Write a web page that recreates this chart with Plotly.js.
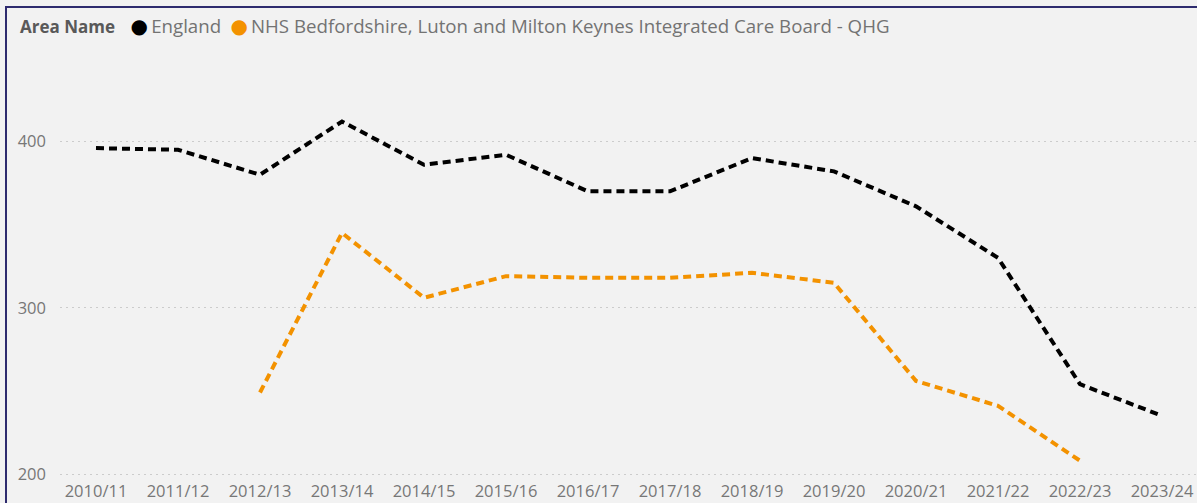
<!DOCTYPE html>
<html><head><meta charset="utf-8">
<script src="https://cdn.plot.ly/plotly-3.0.1.min.js"></script>
<style>
html,body{margin:0;padding:0;background:#f2f2f2;width:1197px;height:503px;overflow:hidden;}
#frame{position:absolute;left:5px;top:6px;width:1200px;height:600px;border-top:2px solid #2e2b6e;border-left:2px solid #2e2b6e;}
#chart{position:absolute;left:0;top:0;width:1197px;height:503px;}
</style></head>
<body>
<div id="frame"></div>
<div id="chart"></div>
<script>
const years = ["2010/11","2011/12","2012/13","2013/14","2014/15","2015/16","2016/17","2017/18","2018/19","2019/20","2020/21","2021/22","2022/23","2023/24"];
const england = [396,395,380,412,386,392,370,370,390,382,361,330,254,235];
const icb = [null,null,249,345,306,319,318,318,321,315,256,241,208,null];
const seriesNames = ["England","NHS Bedfordshire, Luton and Milton Keynes Integrated Care Board - QHG"];
const colors = ["#000000","#f39200"];
const legendTitle = "Area Name";
const yTicks = [200,300,400];

const idx = years.map((_, i) => i);
const dash = "8px,5px";
const traces = [england, icb].map((vals, k) => ({
  x: idx, y: vals, mode: "lines", type: "scatter", name: seriesNames[k], showlegend: false,
  line: {color: colors[k], width: 4, dash: dash}, connectgaps: false, hoverinfo: "skip"
}));

let legendText = "<b><span style='color:#595959;font-size:17px'>" + legendTitle + "</span></b>\u2002\u2009\u2009";
seriesNames.forEach((n, k) => {
  legendText += "<span style='color:" + colors[k] + ";font-size:20px'>\u25CF</span>\u2009" + n + (k < seriesNames.length - 1 ? "\u2002" : "");
});

const layout = {
  width: 1197, height: 503,
  paper_bgcolor: "rgba(0,0,0,0)", plot_bgcolor: "rgba(0,0,0,0)",
  margin: {l: 60, r: 0, t: 60, b: 27},
  font: {family: "Open Sans, DejaVu Sans, sans-serif", color: "#777", size: 16},
  showlegend: false,
  annotations: [{
    xref: "paper", yref: "paper", x: -0.0365, y: 1.0825, xanchor: "left", yanchor: "middle",
    showarrow: false, text: legendText, align: "left",
    font: {size: 18.7, color: "#737373", family: "Open Sans, DejaVu Sans, sans-serif"}
  }],
  xaxis: {range: [-0.439, 13.427], tickvals: idx, ticktext: years, showgrid: false, zeroline: false,
    showline: false, ticks: "", tickfont: {size: 16.5, color: "#777"}, ticklabelstandoff: 3, fixedrange: true},
  yaxis: {range: [198.8, 449], tickvals: yTicks, showgrid: true, gridcolor: "#cccccc", griddash: "2px,4px",
    gridwidth: 1, zeroline: false, showline: false, ticks: "", tickfont: {size: 16.5, color: "#777"},
    ticklabelstandoff: 13}
};
Plotly.newPlot("chart", traces, layout, {displayModeBar: false, staticPlot: true});
</script>
</body></html>
